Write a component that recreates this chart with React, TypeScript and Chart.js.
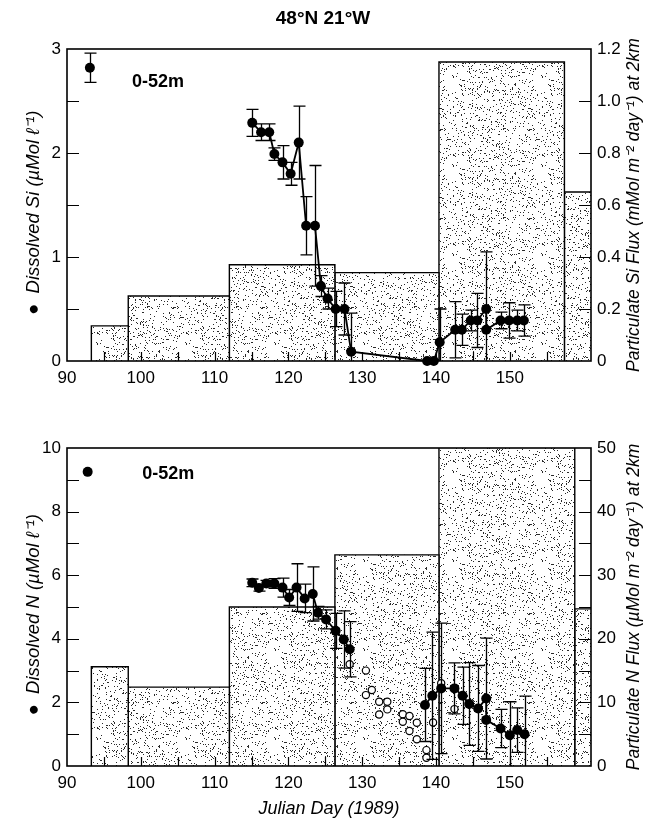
import React, { useEffect, useRef } from "react";
import { Chart, registerables } from "chart.js";
Chart.register(...registerables);

const FONT = "'Liberation Sans', Arial, Helvetica, sans-serif";

// ---- shared x axis (Julian day) ----
const dayMin = 90;
const dayMax = 161;
const dayTickLabels = [90, 100, 110, 120, 130, 140, 150];

// ---- Si panel ----
const siFluxEdges = [93.3, 98.3, 112, 126.3, 140.4, 157.4, 165];
const siFluxValues = [0.135, 0.25, 0.37, 0.34, 1.15, 0.65];
const siDays = [115.1, 116.3, 117.4, 118.1, 119.2, 120.3, 121.4, 122.4, 123.6, 124.4, 125.3, 126.4, 127.6, 128.5,
  138.8, 139.7, 140.5, 142.6, 143.5, 144.7, 145.6, 146.8, 146.8, 148.75, 149.9, 151.0, 151.9];
const siValues = [2.29, 2.2, 2.2, 1.99, 1.91, 1.8, 2.1, 1.3, 1.3, 0.72, 0.6, 0.5, 0.5, 0.09,
  0, 0, 0.18, 0.3, 0.3, 0.39, 0.39, 0.5, 0.3, 0.39, 0.39, 0.39, 0.39];
const siErrors = [0.13, 0.08, 0.08, 0.06, 0.16, 0.11, 0.35, 0.28, 0.58, 0.1, 0.1, 0.17, 0.25, 0.37,
  0, 0, 0.32, 0.27, 0.15, 0.1, 0.26, 0.55, 0, 0.08, 0.17, 0.1, 0.15];
const siLegendDay = [93.1];
const siLegendValue = [2.82];
const siLegendError = [0.14];

// ---- N panel ----
const nFluxEdges = [93.3, 98.3, 112, 126.3, 140.4, 158.8, 165];
const nFluxValues = [15.6, 12.4, 25.0, 33.2, 52, 24.7];
const nDays = [115.1, 116.0, 117.0, 118.1, 119.2, 120.1, 121.1, 122.2, 123.3, 124.0, 125.1, 126.4, 127.5, 128.3,
  133, 138.5, 139.5, 140.7, 142.5, 143.6, 144.5, 145.7, 146.8, 146.8, 148.75, 150.0, 151.0, 152.0];
const nValues = [5.76, 5.6, 5.74, 5.74, 5.61, 5.3, 5.61, 5.27, 5.41, 4.82, 4.61, 4.25, 3.98, 3.67,
  null, 1.92, 2.21, 2.44, 2.44, 2.21, 1.95, 1.81, 2.12, 1.45, 1.18, 0.97, 1.13, 1.0];
const nErrors = [0.12, 0.1, 0.1, 0.15, 0.3, 0.25, 0.75, 0.45, 0.85, 0.2, 0.3, 0.55, 0.9, 0.87,
  0, 1.15, 2.0, 2.05, 0.8, 0.9, 1.3, 1.35, 1.9, 0, 0.6, 1.05, 0.7, 1.2];
const nOpenDays = [128.3, 130.5, 130.5, 131.3, 132.3, 133.4, 132.3, 133.4, 135.5, 136.4, 135.5, 137.4, 136.4, 137.4,
  138.7, 138.7, 139.6, 140.7, 142.5];
const nOpenValues = [3.2, 3.0, 2.23, 2.39, 2.02, 2.02, 1.62, 1.78, 1.63, 1.57, 1.39, 1.36, 1.10, 0.84,
  0.50, 0.26, 1.37, 2.6, 1.79];
const nLegendDay = [92.8];
const nLegendValue = [9.25];

const depthLabel = "0-52m";

function makeStipple(): any {
  const size = 89;
  const c = document.createElement("canvas");
  c.width = size;
  c.height = size;
  const g = c.getContext("2d");
  if (!g) return "#ddd";
  g.fillStyle = "#ffffff";
  g.fillRect(0, 0, size, size);
  let s = 12345;
  const next = () => {
    s = (Math.imul(s, 1664525) + 1013904223) >>> 0;
    return s / 4294967296;
  };
  g.fillStyle = "#2a2a2a";
  for (let i = 0; i < 680; i++) {
    const px = Math.floor(next() * size);
    const py = Math.floor(next() * size);
    g.fillRect(px, py, 1, 1);
  }
  return g.createPattern(c, "repeat") || "#ddd";
}

function fluxDatasets(edges: number[], values: number[], pattern: any) {
  return values.map((v, i) => ({
    type: "line",
    label: "flux" + i,
    yAxisID: "y2",
    data: [
      { x: edges[i], y: 0 },
      { x: edges[i], y: v },
      { x: edges[i + 1], y: v },
      { x: edges[i + 1], y: 0 },
    ],
    fill: "origin",
    backgroundColor: pattern,
    borderColor: "#000",
    borderWidth: 1.4,
    pointRadius: 0,
    tension: 0,
    order: 10,
  }));
}

const errorBarPlugin = {
  id: "errorBars",
  beforeDatasetDraw(chart: any, args: any) {
    const ds = chart.data.datasets[args.index];
    if (!ds.errors) return;
    const meta = args.meta;
    const xs = chart.scales[meta.xAxisID];
    const ys = chart.scales[meta.yAxisID];
    const ctx = chart.ctx;
    const a = chart.chartArea;
    ctx.save();
    ctx.beginPath();
    ctx.rect(a.left, a.top, a.right - a.left, a.bottom - a.top);
    ctx.clip();
    ctx.strokeStyle = "#000";
    ctx.lineWidth = 1.3;
    ctx.beginPath();
    ds.data.forEach((p: any, i: number) => {
      const e = ds.errors[i];
      if (!e || p.y == null) return;
      const x = Math.round(xs.getPixelForValue(p.x)) + 0.5;
      const yt = ys.getPixelForValue(p.y + e);
      const yb = ys.getPixelForValue(p.y - e);
      ctx.moveTo(x, yt);
      ctx.lineTo(x, yb);
      ctx.moveTo(x - 6, yt);
      ctx.lineTo(x + 6, yt);
      ctx.moveTo(x - 6, yb);
      ctx.lineTo(x + 6, yb);
    });
    ctx.stroke();
    ctx.restore();
  },
};

const frameTickPlugin = {
  id: "frameTicks",
  afterDatasetsDraw(chart: any) {
    const { ctx, chartArea: a, scales } = chart;
    ctx.save();
    ctx.strokeStyle = "#000";
    ctx.lineWidth = 1.2;
    ctx.beginPath();
    const x = scales.x;
    for (const t of x.ticks) {
      const v = t.value;
      if (Math.abs(v / 5 - Math.round(v / 5)) > 1e-6 || v <= x.min || v >= x.max) continue;
      const px = Math.round(x.getPixelForValue(v)) + 0.5;
      ctx.moveTo(px, a.bottom);
      ctx.lineTo(px, a.bottom - 9);
    }
    const y = scales.y;
    for (const t of y.ticks) {
      if (t.value <= y.min || t.value >= y.max) continue;
      const py = Math.round(y.getPixelForValue(t.value)) + 0.5;
      ctx.moveTo(a.left, py);
      ctx.lineTo(a.left + 12, py);
    }
    const y2 = scales.y2;
    for (const t of y2.ticks) {
      if (t.value <= y2.min || t.value >= y2.max) continue;
      const py = Math.round(y2.getPixelForValue(t.value)) + 0.5;
      ctx.moveTo(a.right, py);
      ctx.lineTo(a.right - 12, py);
    }
    ctx.stroke();
    ctx.lineWidth = 1.6;
    ctx.strokeRect(a.left, a.top, a.right - a.left, a.bottom - a.top);
    ctx.restore();
  },
};

function textPlugin(label: { text: string; x: number; y: number }, rightTitle: string) {
  return {
    id: "texts",
    afterDraw(chart: any) {
      const { ctx, chartArea: a, scales } = chart;
      ctx.save();
      ctx.fillStyle = "#000";
      ctx.font = "bold 18px " + FONT;
      ctx.textAlign = "left";
      ctx.textBaseline = "middle";
      ctx.fillText(label.text, scales.x.getPixelForValue(label.x), scales.y.getPixelForValue(label.y));
      ctx.translate(634, (a.top + a.bottom) / 2);
      ctx.rotate(-Math.PI / 2);
      ctx.font = "italic 17.5px " + FONT;
      ctx.textAlign = "center";
      ctx.fillText(rightTitle, 0, 0);
      ctx.restore();
    },
  };
}

const tickFont = { size: 17, family: FONT };

function xScale(title: boolean, height: number) {
  return {
    type: "linear",
    min: dayMin,
    max: dayMax,
    grid: { display: false, drawTicks: false },
    border: { display: false },
    ticks: {
      stepSize: 5,
      autoSkip: false,
      maxRotation: 0,
      padding: 7,
      color: "#000",
      font: tickFont,
      callback: (v: number) => (dayTickLabels.includes(v) ? String(v) : ""),
    },
    title: title
      ? {
          display: true,
          text: "Julian Day (1989)",
          color: "#000",
          font: { size: 18, style: "italic", family: FONT },
          padding: { top: 0, bottom: 15 },
        }
      : { display: false },
    afterFit: (s: any) => {
      s.height = height;
    },
  };
}

function yLeft(max: number, step: number, labelEvery: number, title: string) {
  return {
    type: "linear",
    position: "left",
    min: 0,
    max,
    grid: { display: false, drawTicks: false },
    border: { display: false },
    ticks: {
      stepSize: step,
      autoSkip: false,
      padding: 6,
      color: "#000",
      font: tickFont,
      callback: (v: number) =>
        Math.abs(v / labelEvery - Math.round(v / labelEvery)) < 1e-6 ? String(Math.round(v)) : "",
    },
    title: {
      display: true,
      text: title,
      color: "#000",
      font: { size: 18.5, style: "italic", family: FONT },
      padding: { top: 23, bottom: 0 },
    },
    afterFit: (s: any) => {
      s.width = 67;
    },
  };
}

function yRight(max: number, step: number, fmt: (v: number) => string) {
  return {
    type: "linear",
    position: "right",
    min: 0,
    max,
    grid: { display: false, drawTicks: false },
    border: { display: false },
    ticks: { stepSize: step, autoSkip: false, padding: 6, color: "#000", font: tickFont, callback: fmt },
    afterFit: (s: any) => {
      s.width = 55;
    },
  };
}

const pts = (xs: number[], ys: (number | null)[]) => xs.map((x, i) => ({ x, y: ys[i] }));

export default function App() {
  const topRef = useRef<HTMLCanvasElement>(null);
  const botRef = useRef<HTMLCanvasElement>(null);

  useEffect(() => {
    Chart.defaults.font.family = FONT;
    Chart.defaults.color = "#000";
    const pattern = makeStipple();

    const top = new Chart(topRef.current as HTMLCanvasElement, {
      type: "line",
      data: {
        datasets: [
          ...fluxDatasets(siFluxEdges, siFluxValues, pattern),
          {
            type: "line",
            label: "Si",
            yAxisID: "y",
            data: pts(siDays, siValues),
            errors: siErrors,
            borderColor: "#000",
            borderWidth: 1.8,
            pointRadius: 5,
            pointBackgroundColor: "#000",
            pointBorderColor: "#000",
            pointBorderWidth: 0,
            tension: 0,
            fill: false,
            clip: false,
            order: 0,
          },
          {
            type: "line",
            label: "legend",
            yAxisID: "y",
            data: pts(siLegendDay, siLegendValue),
            errors: siLegendError,
            showLine: false,
            pointRadius: 5,
            pointBackgroundColor: "#000",
            pointBorderColor: "#000",
            pointBorderWidth: 0,
            clip: false,
            order: 0,
          },
        ] as any,
      },
      options: {
        responsive: false,
        animation: false,
        events: [],
        layout: { padding: 0 },
        plugins: {
          legend: { display: false },
          tooltip: { enabled: false },
          title: {
            display: true,
            text: "48°N 21°W",
            color: "#000",
            font: { size: 19, weight: "bold", family: FONT, lineHeight: 1 },
            padding: { top: 9, bottom: 21 },
          },
        },
        scales: {
          x: xScale(false, 34),
          y: yLeft(3, 0.5, 1, "●  Dissolved Si (µMol ℓ⁻¹)   "),
          y2: yRight(1.2, 0.2, (v: number) => (Math.abs(v) < 1e-9 ? "0" : v.toFixed(1))),
        } as any,
      },
      plugins: [errorBarPlugin, frameTickPlugin, textPlugin({ text: depthLabel, x: 98.8, y: 2.68 }, "Particulate Si Flux (mMol m⁻² day⁻¹) at 2km")],
    } as any);

    const bot = new Chart(botRef.current as HTMLCanvasElement, {
      type: "line",
      data: {
        datasets: [
          ...fluxDatasets(nFluxEdges, nFluxValues, pattern),
          {
            type: "line",
            label: "N",
            yAxisID: "y",
            data: pts(nDays, nValues),
            errors: nErrors,
            borderColor: "#000",
            borderWidth: 1.8,
            pointRadius: 5,
            pointBackgroundColor: "#000",
            pointBorderColor: "#000",
            pointBorderWidth: 0,
            tension: 0,
            fill: false,
            spanGaps: false,
            clip: false,
            order: 0,
          },
          {
            type: "line",
            label: "N open",
            yAxisID: "y",
            data: pts(nOpenDays, nOpenValues),
            showLine: false,
            pointRadius: 3.6,
            pointBackgroundColor: "#fff",
            pointBorderColor: "#000",
            pointBorderWidth: 1.2,
            clip: false,
            order: 1,
          },
          {
            type: "line",
            label: "legend",
            yAxisID: "y",
            data: pts(nLegendDay, nLegendValue),
            showLine: false,
            pointRadius: 5,
            pointBackgroundColor: "#000",
            pointBorderColor: "#000",
            pointBorderWidth: 0,
            clip: false,
            order: 0,
          },
        ] as any,
      },
      options: {
        responsive: false,
        animation: false,
        events: [],
        layout: { padding: { top: 53, left: 0, right: 0, bottom: 0 } },
        plugins: {
          legend: { display: false },
          tooltip: { enabled: false },
          title: { display: false },
        },
        scales: {
          x: xScale(true, 69),
          y: yLeft(10, 1, 2, "●  Dissolved N (µMol ℓ⁻¹)   "),
          y2: yRight(50, 5, (v: number) => (Math.abs(v / 10 - Math.round(v / 10)) < 1e-6 ? String(Math.round(v)) : "")),
        } as any,
      },
      plugins: [errorBarPlugin, frameTickPlugin, textPlugin({ text: depthLabel, x: 100.2, y: 9.18 }, "Particulate N Flux (µMol m⁻² day⁻¹) at 2km")],
    } as any);

    return () => {
      top.destroy();
      bot.destroy();
    };
  }, []);

  return (
    <div style={{ position: "absolute", left: 0, top: 0, width: 646, height: 835, background: "#fff" }}>
      <canvas ref={topRef} width={646} height={395} style={{ position: "absolute", left: 0, top: 0 }} />
      <canvas ref={botRef} width={646} height={440} style={{ position: "absolute", left: 0, top: 395 }} />
    </div>
  );
}
